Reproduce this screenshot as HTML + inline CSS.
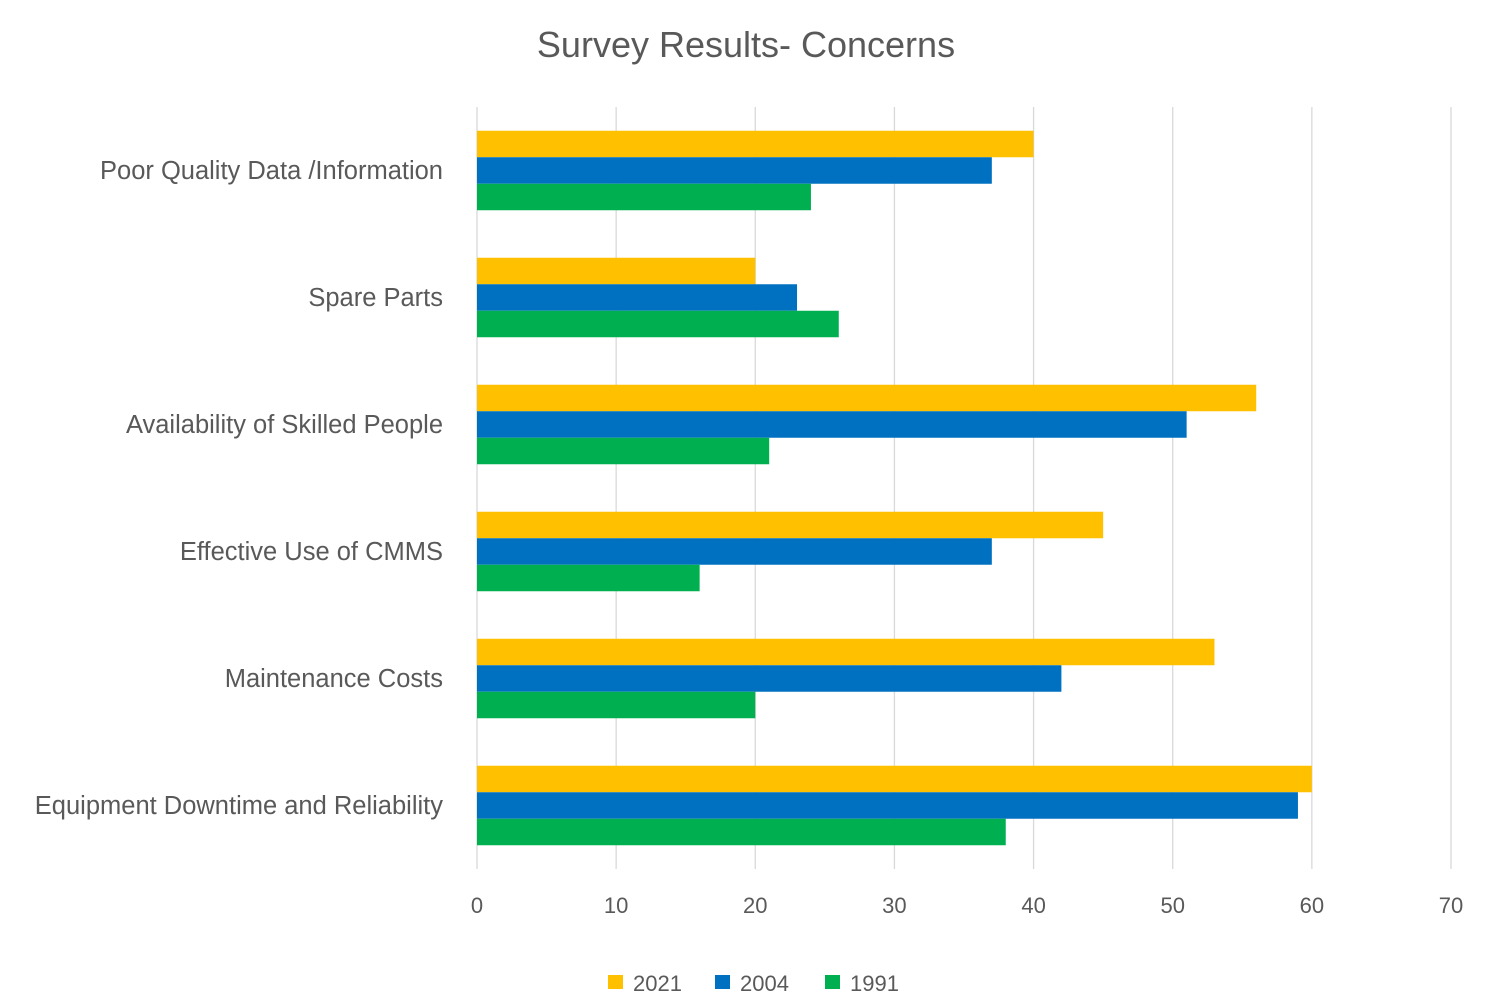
<!DOCTYPE html>
<html><head><meta charset="utf-8"><style>
body{margin:0;background:#fff;}
svg{display:block;font-family:"Liberation Sans",sans-serif;}
</style></head><body>
<svg id="chart" width="1495" height="1003">
<text x="746" y="57" text-anchor="middle" font-size="36" fill="#595959">Survey Results- Concerns</text>
</svg>
<script>
const categories=["Poor Quality Data /Information","Spare Parts","Availability of Skilled People","Effective Use of CMMS","Maintenance Costs","Equipment Downtime and Reliability"];
const seriesNames=["2021","2004","1991"];
const values2021=[40,20,56,45,53,60];
const values2004=[37,23,51,37,42,59];
const values1991=[24,26,21,16,20,38];
const ticks=[0,10,20,30,40,50,60,70];
const colors=["#FFC000","#0070C0","#00B050"];
const series=[values2021,values2004,values1991];
const svg=document.getElementById('chart');
const NS="http://www.w3.org/2000/svg";
const x0=477,x1=1451,vmax=70,plotTop=107,plotBottom=869;
const xs=v=>x0+(x1-x0)*v/vmax;
const band=(plotBottom-plotTop)/categories.length;
function mk(t,a){const e=document.createElementNS(NS,t);for(const k in a)e.setAttribute(k,a[k]);svg.appendChild(e);return e;}
ticks.forEach(t=>{
 const g=mk('line',{x1:xs(t),x2:xs(t),y1:plotTop,y2:plotBottom,stroke:'#d9d9d9','stroke-width':1.3});
 
 
 const l=mk('text',{x:xs(t),y:913,'text-anchor':'middle','font-size':22,fill:'#595959'});
 l.textContent=t;
 
 
});
const bh=26.5;
categories.forEach((c,i)=>{
 const cy=plotTop+band*(i+0.5);
 const l=mk('text',{x:443,y:cy+8.5,'text-anchor':'end','font-size':25.5,fill:'#595959'});
 l.textContent=c;
 
 
 series.forEach((s,j)=>{
  const r=mk('rect',{x:x0,y:cy-1.5*bh+j*bh,width:xs(s[i])-x0,height:bh,fill:colors[j]});
  
  
 });
});
const lx=[608,715,825];
seriesNames.forEach((n,j)=>{
 const r=mk('rect',{x:lx[j],y:975,width:15,height:14,fill:colors[j]});
 
 
 const t=mk('text',{x:lx[j]+25,y:991,'font-size':22,fill:'#595959'});
 t.textContent=n;
 
 
});
</script>
</body></html>
